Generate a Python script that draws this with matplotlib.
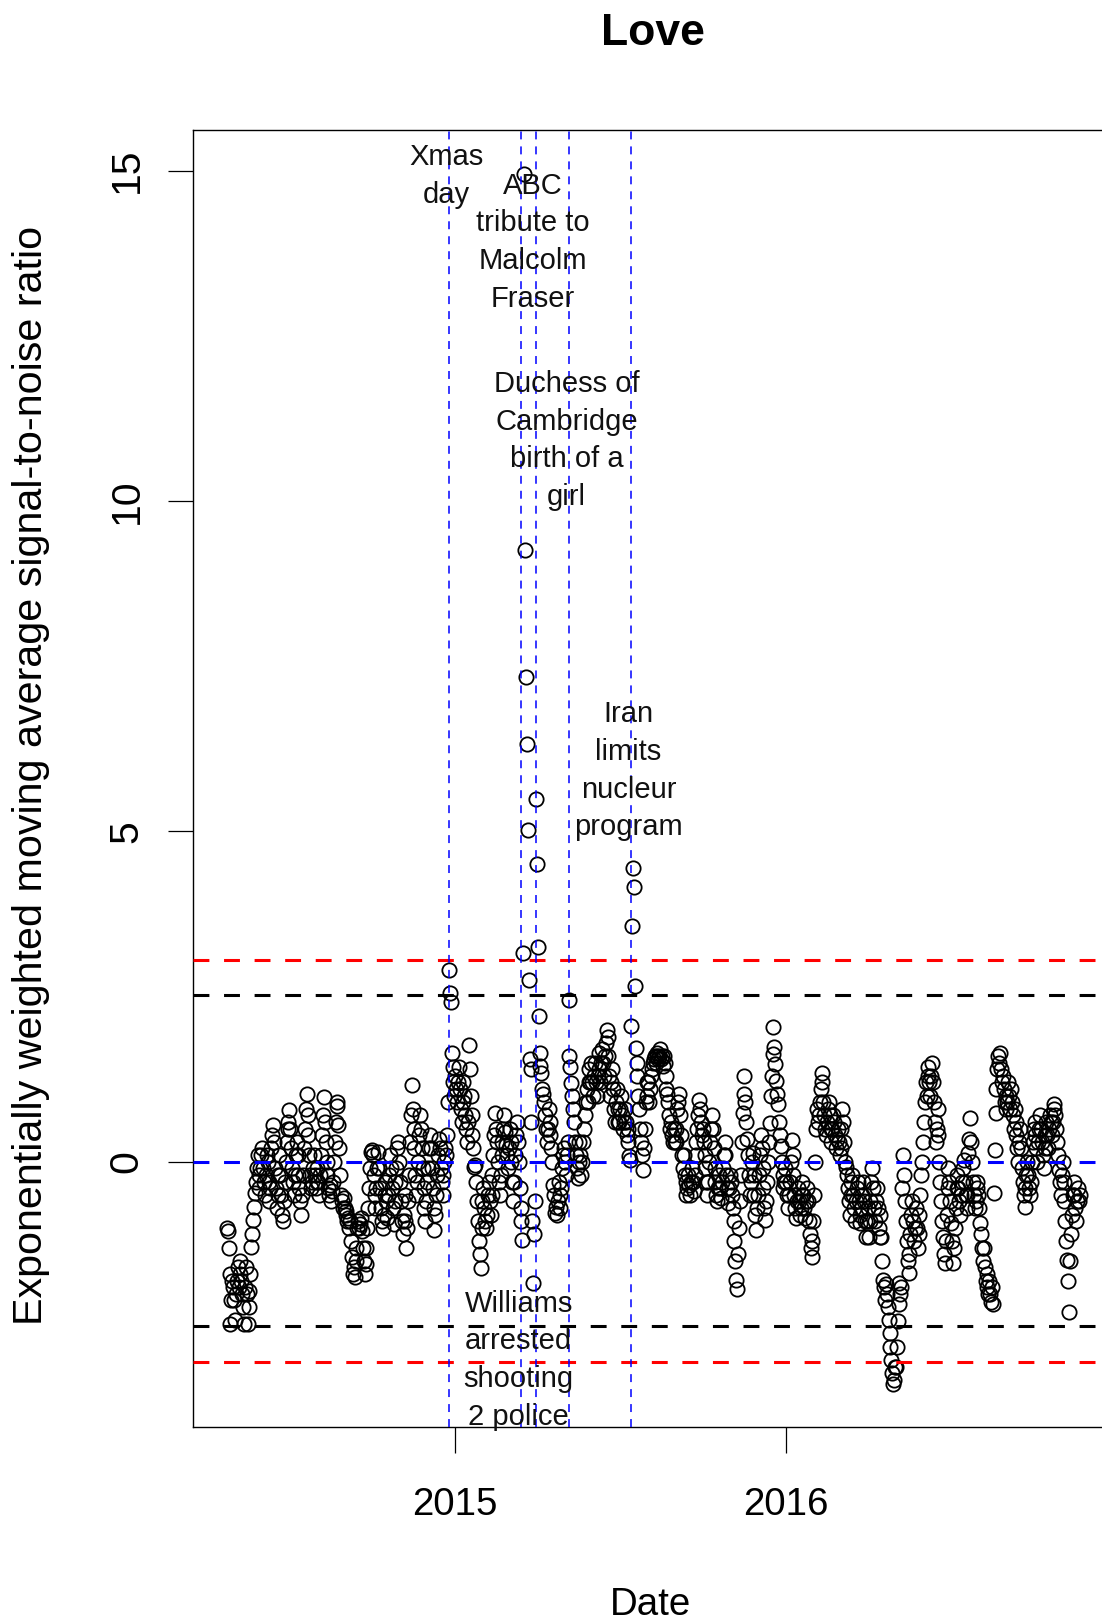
import matplotlib
matplotlib.use("Agg")
import matplotlib.pyplot as plt
import matplotlib.dates as mdates
import matplotlib.transforms as mtransforms
import pandas as pd

plt.rcParams['font.family'] = ['Liberation Sans', 'DejaVu Sans']

title = "Love"
x_label = "Date"
y_label = "Exponentially weighted moving average signal-to-noise ratio"

# ---- daily EWMA signal-to-noise values (one list per month) ----
m2014_04 = [-1.0, -1.05, -1.3, -1.7, -2.45, -2.1, -1.8]  # from 24 April
m2014_05 = [-1.9, -2.1, -2.4, -2.0, -1.8, -1.6, -1.9, -1.7, -1.5, -1.8,
            -2.0, -2.2, -2.45, -1.9, -1.6, -2.0, -2.45, -2.2, -1.95, -1.7,
            -1.29, -1.1, -0.88, -0.68, -0.48, -0.3, -0.1, 0.1, -0.2, -0.4, -0.1]
m2014_06 = [0.1, 0.2, -0.1, -0.3, -0.5, -0.2, 0.1, 0.0, -0.3, -0.6,
            -0.4, 0.2, 0.4, 0.55, 0.3, -0.1, -0.4, -0.7, -0.5, -0.2,
            0.1, -0.2, -0.5, -0.8, -0.9, -0.6, -0.3, 0.0, 0.3, 0.5]
m2014_07 = [0.6, 0.78, 0.5, 0.2, -0.1, -0.3, -0.5, -0.2, 0.1, 0.3,
            0.1, -0.2, -0.4, -0.6, -0.8, -0.5, -0.2, 0.2, 0.5, 0.8,
            1.03, 0.7, 0.4, 0.1, -0.2, -0.4, -0.3, -0.1, 0.1, -0.2, -0.4]
m2014_08 = [-0.3, -0.1, -0.3, -0.5, -0.2, 0.1, 0.4, 0.7, 0.98, 0.6,
            0.3, 0.0, -0.2, -0.4, -0.5, -0.35, -0.6, -0.45, -0.3, 0.0,
            0.3, 0.6, 0.85, 0.91, 0.55, 0.2, -0.2, -0.5, -0.6, -0.7, -0.55]
m2014_09 = [-0.7, -0.8, -0.75, -0.9, -0.85, -1.0, -0.9, -1.2, -1.45, -1.7,
            -1.6, -1.74, -1.5, -1.3, -1.0, -0.9, -1.0, -0.95, -0.85, -1.05,
            -1.3, -1.5, -1.7, -1.55, -1.3, -1.0, -0.7, -0.4, -0.1, 0.15]
m2014_10 = [0.18, 0.1, -0.2, -0.5, -0.7, -0.4, -0.1, 0.15, -0.1, -0.4,
            -0.7, -0.9, -1.0, -0.8, -0.5, -0.3, -0.6, -0.85, -0.5, -0.2,
            0.1, -0.1, -0.4, -0.7, -0.95, -0.6, -0.3, -0.1, 0.2, 0.3, 0.0]
m2014_11 = [-0.3, -0.6, -0.9, -1.1, -0.8, -0.5, -0.9, -1.31, -1.0, -0.6,
            -0.2, 0.3, 0.7, 1.16, 0.8, 0.5, 0.2, -0.2, -0.5, -0.3,
            0.0, 0.4, 0.7, 0.5, 0.2, -0.1, -0.4, -0.7, -0.9, -0.6]
m2014_12 = [-0.3, -0.1, 0.2, 0.4, 0.2, -0.1, -0.4, -0.7, -1.03, -0.8,
            -0.5, -0.2, 0.1, 0.35, 0.2, -0.1, -0.3, -0.5, -0.2, 0.0,
            0.2, 0.1, 0.4, 0.9, 2.9, 2.55, 2.42, 1.64, 1.44, 1.2, 1.0]
m2015_01 = [1.3, 1.1, 0.9, 1.2, 1.44, 1.1, 0.8, 0.6, 0.9, 1.2,
            1.0, 0.7, 0.5, 0.3, 0.6, 1.77, 1.4, 1.0, 0.7, 0.4,
            0.2, -0.08, -0.05, -0.3, -0.6, -0.9, -1.2, -1.39, -1.61, -1.0, -0.6]
m2015_02 = [-0.4, -0.7, -0.9, -1.0, -0.8, -0.5, -0.3, -0.6, -0.8, -0.5,
            -0.2, 0.1, 0.4, 0.73, 0.5, 0.3, 0.0, -0.3, -0.5, -0.2,
            0.1, 0.3, 0.5, 0.7, 0.45, 0.25, 0.1, -0.1]
m2015_03 = [0.2, 0.5, 0.3, 0.0, -0.3, -0.6, -0.3, 0.1, 0.4, 0.6,
            0.3, 0.0, -0.4, -0.7, -0.9, -1.19, 3.16, 14.95, 9.26, 7.33,
            6.32, 5.02, 2.75, 1.55, 1.4, 0.6, -0.9, -1.84, -1.1, -0.6, 5.49]
m2015_04 = [4.5, 3.25, 2.2, 1.64, 1.45, 1.34, 1.1, 1.03, 0.9, 0.7,
            0.5, 0.3, 0.5, 0.8, 0.6, 0.4, 0.2, 0.0, -0.35, -0.5,
            -0.78, -0.68, -0.8, -0.6, -0.3, -0.5, -0.7, -0.4, -0.1, 0.1]
m2015_05 = [0.2, 0.0, -0.2, 0.1, 0.3, 2.45, 1.6, 1.44, 1.19, 1.0,
            0.8, 0.6, 0.3, 0.1, -0.1, -0.25, 0.0, 0.3, 0.1, -0.2,
            0.0, 0.3, 0.5, 0.7, 0.9, 1.1, 0.9, 1.2, 1.4, 1.2, 1.5]
m2015_06 = [1.2, 1.0, 1.3, 1.5, 1.2, 1.0, 1.3, 1.64, 1.4, 1.2,
            1.5, 1.7, 1.5, 1.3, 1.6, 1.8, 1.99, 1.89, 1.6, 1.3,
            1.0, 1.2, 1.4, 1.1, 0.8, 0.6, 0.9, 1.1, 0.8, 0.6]
m2015_07 = [0.6, 0.8, 1.0, 0.7, 0.5, 0.6, 0.8, 0.6, 0.4, 0.5,
            0.3, 0.08, 0.03, 2.05, 3.57, 4.44, 4.16, 2.66, 1.72, 1.5,
            1.3, 1.0, 0.8, 0.5, 0.3, 0.1, -0.13, 0.2, 0.5, 0.9, 1.2]
m2015_08 = [1.0, 1.2, 0.9, 1.1, 1.3, 1.4, 1.5, 1.55, 1.6, 1.5,
            1.65, 1.6, 1.55, 1.6, 1.7, 1.55, 1.6, 1.45, 1.6, 1.5,
            1.3, 1.1, 1.03, 0.9, 0.7, 0.5, 0.6, 0.4, 0.3, 0.5, 0.3]
m2015_09 = [0.3, 0.5, 0.8, 0.9, 1.03, 0.7, 0.4, 0.1, -0.1, 0.1,
            -0.2, -0.3, -0.5, -0.4, -0.2, -0.35, -0.5, -0.3, -0.1, -0.3,
            -0.45, -0.2, 0.1, 0.3, 0.5, 0.7, 0.93, 0.8, 0.6, 0.4]
m2015_10 = [0.5, 0.3, 0.1, -0.1, -0.3, -0.5, -0.3, 0.0, 0.3, 0.5,
            0.7, 0.5, 0.2, -0.1, -0.3, -0.5, -0.6, -0.4, -0.2, -0.4,
            -0.55, -0.3, -0.1, 0.1, 0.3, 0.1, -0.2, -0.4, -0.63, -0.4, -0.2]
m2015_11 = [-0.3, -0.5, -0.7, -0.9, -1.2, -1.5, -1.79, -1.92, -1.4, -1.0,
            -0.6, -0.2, 0.3, 0.73, 1.03, 1.29, 0.9, 0.6, 0.35, 0.1,
            -0.2, -0.5, -0.3, 0.0, 0.13, -0.2, -0.5, -0.8, -1.03, -0.7]
m2015_12 = [-0.5, -0.2, 0.1, 0.4, 0.2, -0.1, -0.4, -0.7, -0.88, -0.6,
            -0.3, 0.0, 0.3, 0.58, 1.0, 1.3, 1.63, 2.04, 1.74, 1.48,
            1.22, 1.03, 0.88, 0.6, 0.4, 0.23, 0.0, -0.2, -0.4, -0.3, -0.1]
m2016_01 = [-0.3, -0.5, -0.7, -0.5, -0.3, 0.0, 0.33, 0.1, -0.2, -0.5,
            -0.7, -0.85, -0.6, -0.4, -0.6, -0.8, -0.7, -0.5, -0.3, -0.5,
            -0.7, -0.85, -0.6, -0.4, -0.6, -0.9, -1.1, -1.3, -1.44, -1.2, -0.9]
m2016_02 = [-0.5, 0.0, 0.5, 0.8, 0.6, 0.7, 0.9, 1.1, 1.34, 1.2,
            0.9, 0.7, 0.5, 0.4, 0.6, 0.8, 0.9, 0.7, 0.5, 0.3,
            0.5, 0.7, 0.6, 0.4, 0.2, 0.35, 0.5, 0.3, 0.1]
m2016_03 = [0.2, 0.5, 0.8, 0.6, 0.3, 0.0, -0.08, -0.2, -0.4, -0.6,
            -0.8, -0.5, -0.3, -0.2, -0.5, -0.7, -0.9, -0.6, -0.4, -0.3,
            -0.6, -0.8, -0.93, -0.7, -0.5, -0.3, -0.6, -0.9, -1.14, -0.9, -0.7]
m2016_04 = [-1.14, -0.9, -0.6, -0.3, -0.1, -0.4, -0.7, -0.9, -0.6, -0.4,
            -0.7, -1.0, -1.14, -0.8, -1.14, -1.5, -1.79, -1.9, -2.1, -1.85,
            -2.0, -2.2, -2.4, -2.6, -2.8, -3.0, -3.2, -3.36, -3.3, -3.1]
m2016_05 = [-3.1, -2.8, -2.41, -2.15, -1.84, -2.0, -1.9, -0.4, 0.1, -0.2,
            -0.6, -0.9, -1.2, -1.5, -1.69, -1.4, -1.1, -0.8, -0.6, -0.9,
            -1.2, -1.0, -0.7, -1.0, -1.3, -1.1, -0.8, -0.5, -0.2, 0.0, 0.3]
m2016_06 = [0.6, 0.9, 1.2, 1.0, 1.3, 1.44, 1.2, 1.0, 1.3, 1.5,
            1.2, 0.9, 0.6, 0.3, 0.5, 0.8, 0.4, 0.0, -0.3, -0.6,
            -0.9, -1.14, -1.4, -1.54, -1.2, -0.8, -0.4, -0.1, -0.3, -0.6]
m2016_07 = [-0.93, -1.2, -1.54, -1.3, -1.0, -0.7, -0.4, -0.2, -0.4, -0.6,
            -0.8, -0.5, -0.3, -0.1, 0.03, -0.3, -0.5, -0.7, -0.5, 0.13,
            0.35, 0.66, 0.3, 0.0, -0.3, -0.5, -0.7, -0.6, -0.4, -0.3, -0.5]
m2016_08 = [-0.7, -0.93, -1.1, -1.3, -1.5, -1.3, -1.6, -1.8, -1.7, -1.9,
            -2.0, -1.8, -2.0, -2.12, -1.9, -2.15, -0.48, 0.18, 0.73, 1.1,
            1.4, 1.6, 1.5, 1.64, 1.4, 1.2, 1.3, 1.1, 0.9, 1.0, 0.8]
m2016_09 = [0.9, 1.2, 1.0, 0.8, 1.1, 0.9, 0.7, 0.5, 0.8, 0.6,
            0.4, 0.2, 0.0, 0.3, 0.5, 0.2, -0.1, -0.3, -0.5, -0.68,
            -0.4, -0.2, 0.0, -0.2, -0.4, -0.5, -0.3, 0.0, 0.3, 0.5]
m2016_10 = [0.6, 0.4, 0.2, 0.0, 0.3, 0.5, 0.7, 0.5, 0.3, 0.1,
            -0.1, 0.2, 0.4, 0.6, 0.4, 0.2, 0.5, 0.7, 0.6, 0.4,
            0.6, 0.8, 0.88, 0.7, 0.5, 0.3, 0.1, -0.13, -0.3, -0.5, -0.2]
m2016_11 = [0.0, -0.3, -0.6, -0.9, -1.2, -1.49, -1.8, -2.27, -1.5, -1.1,
            -0.8, -0.5, -0.3, -0.5, -0.7, -0.9, -0.6, -0.4, -0.6, -0.5]

month_starts = ["2014-04-24", "2014-05-01", "2014-06-01", "2014-07-01", "2014-08-01",
                "2014-09-01", "2014-10-01", "2014-11-01", "2014-12-01",
                "2015-01-01", "2015-02-01", "2015-03-01", "2015-04-01", "2015-05-01",
                "2015-06-01", "2015-07-01", "2015-08-01", "2015-09-01", "2015-10-01",
                "2015-11-01", "2015-12-01",
                "2016-01-01", "2016-02-01", "2016-03-01", "2016-04-01", "2016-05-01",
                "2016-06-01", "2016-07-01", "2016-08-01", "2016-09-01", "2016-10-01",
                "2016-11-01"]
monthly_values = [m2014_04, m2014_05, m2014_06, m2014_07, m2014_08, m2014_09, m2014_10,
                  m2014_11, m2014_12, m2015_01, m2015_02, m2015_03, m2015_04, m2015_05,
                  m2015_06, m2015_07, m2015_08, m2015_09, m2015_10, m2015_11, m2015_12,
                  m2016_01, m2016_02, m2016_03, m2016_04, m2016_05, m2016_06, m2016_07,
                  m2016_08, m2016_09, m2016_10, m2016_11]

# ---- events ----
event_dates = ["2014-12-25", "2015-03-15", "2015-03-31", "2015-05-07", "2015-07-14"]
event_labels = ["Xmas\nday",
                "Williams\narrested\nshooting\n2 police",
                "ABC\ntribute to\nMalcolm\nFraser",
                "Duchess of\nCambridge\nbirth of a\ngirl",
                "Iran\nlimits\nnucleur\nprogram"]
event_label_y = [15, -2.92, 14, 11, 6]

# ---- reference lines ----
hline_levels = [3.05, 2.52, 0.0, -2.49, -3.03]
hline_colors = ["#FF0000", "#000000", "#0000FF", "#000000", "#FF0000"]

y_ticks = [0, 5, 10, 15]
y_tick_labels = ["0", "5", "10", "15"]
x_tick_dates = ["2015-01-01", "2016-01-01"]
x_tick_labels = ["2015", "2016"]
y_limits = (-4.02, 15.615)

# ---- assemble the series ----
dates = []
values = []
for start, vals in zip(month_starts, monthly_values):
    dates.extend(pd.date_range(start, periods=len(vals), freq="D"))
    values.extend(vals)
dates = pd.to_datetime(pd.Series(dates))

# ---- figure ----
W, H, DPI = 1102, 1621, 100
fig = plt.figure(figsize=(W / DPI, H / DPI), dpi=DPI)
ax_left_px, ax_right_px, ax_top_px, ax_bot_px = 192.7, 1114.0, 130.0, 1427.3
ax = fig.add_axes([ax_left_px / W, 1 - ax_bot_px / H,
                   (ax_right_px - ax_left_px) / W, (ax_bot_px - ax_top_px) / H])

ax.plot(dates, values, linestyle="none", marker="o", markersize=10.3,
        markerfacecolor="none", markeredgecolor="black", markeredgewidth=1.3, zorder=2)

for lvl, col in zip(hline_levels, hline_colors):
    ax.axhline(lvl, color=col, linewidth=2.2, linestyle=(0, (5.2, 4.8)), zorder=3)

text_shift = mtransforms.offset_copy(ax.transData, fig=fig, x=-2.0, y=-4.0, units="points")
for d, lab, ly in zip(event_dates, event_labels, event_label_y):
    dt = pd.Timestamp(d)
    ax.axvline(dt, color="#0000FF", linewidth=1.1, linestyle=(0, (5.2, 4.6)), zorder=3)
    ax.text(dt, ly, lab, transform=text_shift, ha="center", va="center",
            fontsize=21, linespacing=1.44, color="#111111", zorder=4)

# R-style 4% padding on the date axis
x0 = dates.min()
x1 = dates.max()
pad = (x1 - x0) * 0.04
ax.set_xlim(x0 - pad, x1 + pad)
ax.set_ylim(*y_limits)

ax.set_xticks([pd.Timestamp(d) for d in x_tick_dates])
ax.set_xticklabels(x_tick_labels, fontsize=27.7)
ax.set_yticks(y_ticks)
ax.set_yticklabels(y_tick_labels, fontsize=29.5, rotation=90, va="center")
ax.tick_params(axis="x", direction="out", length=18.7, width=0.9, pad=24)
ax.tick_params(axis="y", direction="out", length=18.0, width=0.9, pad=16)

for sp in ax.spines.values():
    sp.set_linewidth(1.0)
    sp.set_color("black")

ax.set_title(title, fontsize=32, fontweight="bold",
             y=1 + (ax_top_px - 34) / (ax_bot_px - ax_top_px), va="center", pad=0)
ax.set_xlabel(x_label, fontsize=27.7, va="center")
ax.xaxis.set_label_coords((651 - ax_left_px) / (ax_right_px - ax_left_px),
                          (ax_bot_px - 1605) / (ax_bot_px - ax_top_px))
ax.set_ylabel(y_label, fontsize=29.7, va="center")
ax.yaxis.set_label_coords((31 - ax_left_px) / (ax_right_px - ax_left_px),
                          (ax_bot_px - 775) / (ax_bot_px - ax_top_px))

fig.savefig("out.png", dpi=DPI)
